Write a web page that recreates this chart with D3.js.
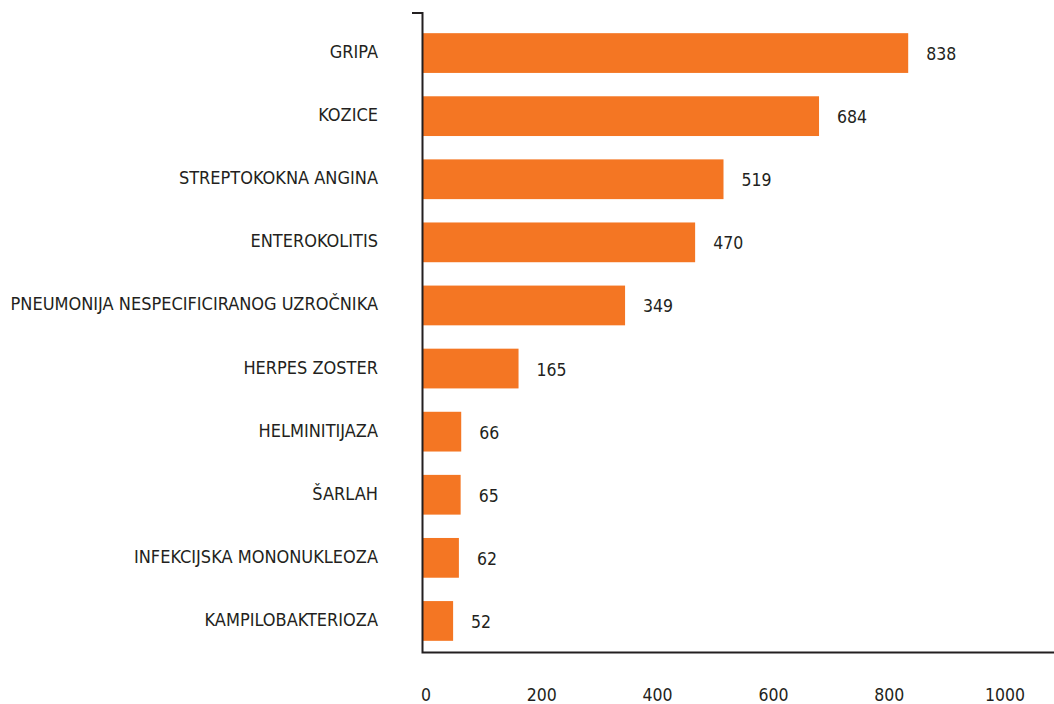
<!DOCTYPE html>
<html>
<head>
<meta charset="utf-8">
<script src="https://cdn.jsdelivr.net/npm/d3@7"></script>
<style>
  body { margin: 0; background: #fff; }
  svg text { font-family: "DejaVu Sans Condensed", "DejaVu Sans", sans-serif; fill: #231f20; }
</style>
</head>
<body>
<div id="chart"></div>
<script>
// data
const diseases = ["GRIPA", "KOZICE", "STREPTOKOKNA ANGINA", "ENTEROKOLITIS",
  "PNEUMONIJA NESPECIFICIRANOG UZROČNIKA", "HERPES ZOSTER", "HELMINITIJAZA",
  "ŠARLAH", "INFEKCIJSKA MONONUKLEOZA", "KAMPILOBAKTERIOZA"];
const cases = [838, 684, 519, 470, 349, 165, 66, 65, 62, 52];
const xTicks = [0, 200, 400, 600, 800, 1000];

const W = 1054, H = 704;

var svg = d3.select("#chart")
  .append("svg")
    .attr("width", W)
    .attr("height", H);

var x = d3.scaleLinear()
  .domain([0, 1000])
  .range([423, 1002]);

var y = d3.scaleBand()
  .domain(diseases)
  .range([21.5, 652.5])
  .paddingInner(0.37)
  .paddingOuter(0.185);

// bars
svg.selectAll(".bar")
  .data(diseases)
  .enter().append("rect")
  .attr("class", "bar")
  .attr("x", x(0))
  .attr("y", d => y(d))
  .attr("width", (d, i) => x(cases[i]) - x(0))
  .attr("height", y.bandwidth())
  .attr("fill", "#f47623");

// value labels
svg.selectAll(".val")
  .data(diseases)
  .enter().append("text")
  .attr("class", "val")
  .attr("x", (d, i) => x(cases[i]) + 18)
  .attr("y", d => y(d) + y.bandwidth() / 2 + 2)
  .attr("dominant-baseline", "middle")
  .style("font-size", "17.5px")
  .text((d, i) => cases[i]);

// category labels
svg.selectAll(".cat")
  .data(diseases)
  .enter().append("text")
  .attr("class", "cat")
  .attr("x", 378)
  .attr("y", d => y(d) + y.bandwidth() / 2)
  .attr("text-anchor", "end")
  .attr("dominant-baseline", "middle")
  .style("font-size", "18px")
  .text(d => d);

// axis lines
svg.append("path")
  .attr("d", "M412,13H422.5V652.5H1054")
  .attr("fill", "none")
  .attr("stroke", "#231f20")
  .attr("stroke-width", 2);

// x tick labels (no tick marks)
svg.selectAll(".tick-lbl")
  .data(xTicks)
  .enter().append("text")
  .attr("class", "tick-lbl")
  .attr("x", d => x(d) + 3)
  .attr("y", 696)
  .attr("text-anchor", "middle")
  .attr("dominant-baseline", "middle")
  .style("font-size", "17.5px")
  .text(d => d);
</script>
</body>
</html>
